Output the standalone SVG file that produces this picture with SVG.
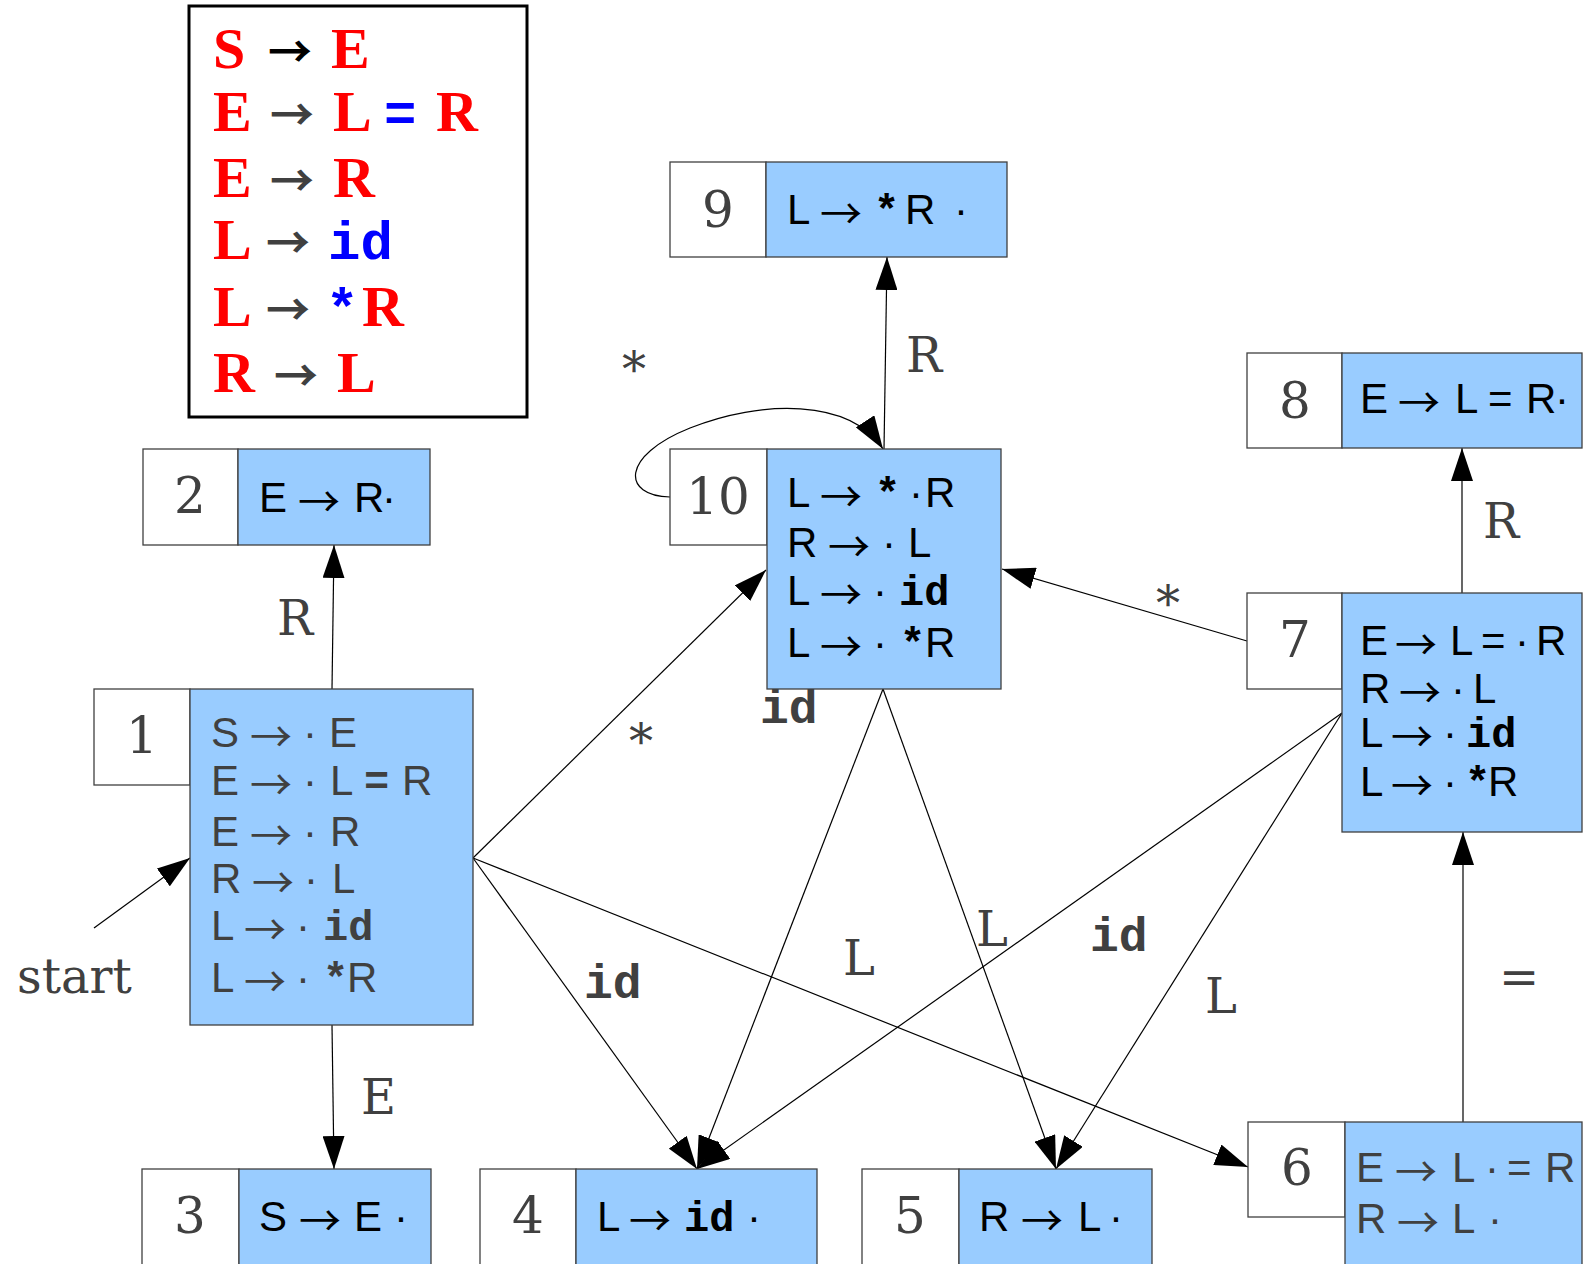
<svg xmlns="http://www.w3.org/2000/svg" width="1590" height="1264" viewBox="0 0 1590 1264">
<style>
.lbl{fill:#fff;stroke:#404040;stroke-width:1.3}
.body{fill:#99ccff;stroke:#404040;stroke-width:1.3}
.num{font-family:"DejaVu Serif",serif;font-size:50px;fill:#404040;text-anchor:middle}
.it{font-family:"Liberation Sans",Arial,sans-serif;font-size:42px;fill:#000}
.gray{fill:#404040}
.m{font-family:"Liberation Mono","Courier New",monospace;font-weight:bold}
.ar{font-family:"Noto Sans CJK SC","DejaVu Sans",sans-serif;font-size:42px}
.el{font-family:"DejaVu Serif",serif;font-size:48px;fill:#404040}
.eid{font-family:"Liberation Mono","Courier New",monospace;font-weight:bold;font-size:48px;fill:#404040}
.g{font-family:"Liberation Serif","Times New Roman",serif;font-weight:bold;font-size:58px;fill:#ff0000}
.gb{font-family:"Liberation Mono","Courier New",monospace;font-weight:bold;font-size:54px;fill:#0000ff}
.ga{font-family:"Noto Sans CJK SC","DejaVu Sans",sans-serif;font-weight:bold;font-size:44px;fill:#404040}
.edge{fill:none;stroke:#000;stroke-width:1.2}
</style>
<defs>
<marker id="ah" viewBox="0 0 33 22" markerWidth="33" markerHeight="22" refX="33" refY="11" orient="auto" markerUnits="userSpaceOnUse">
<path d="M0,0 L33,11 L0,22 z" fill="#000"/>
</marker>
</defs>

<g id="grammar">
<rect x="189" y="6" width="338" height="411" fill="#fff" stroke="#000" stroke-width="3"/>
<text class="g" x="213" y="68">S</text><text class="ga" x="268" y="68" style="fill:#000">→</text><text class="g" x="331" y="68">E</text>
<text class="g" x="213" y="131">E</text><text class="ga" x="270" y="131">→</text><text class="g" x="333" y="131">L</text><text class="gb" x="384" y="131">=</text><text class="g" x="436" y="131">R</text>
<text class="g" x="213" y="197">E</text><text class="ga" x="270" y="197">→</text><text class="g" x="333" y="197">R</text>
<text class="g" x="213" y="259">L</text><text class="ga" x="266" y="259">→</text><text class="gb" x="328" y="259">id</text>
<text class="g" x="213" y="326">L</text><text class="ga" x="266" y="326">→</text><text class="gb" x="326" y="326">*</text><text class="g" x="362" y="326">R</text>
<text class="g" x="213" y="392">R</text><text class="ga" x="274" y="392">→</text><text class="g" x="337" y="392">L</text>
</g>

<g id="connectors">
<line class="edge" x1="94" y1="928" x2="190" y2="858" marker-end="url(#ah)"/>
<line class="edge" x1="332" y1="689" x2="334" y2="545" marker-end="url(#ah)"/>
<line class="edge" x1="332" y1="1025" x2="334" y2="1169" marker-end="url(#ah)"/>
<line class="edge" x1="473" y1="858" x2="766" y2="570" marker-end="url(#ah)"/>
<line class="edge" x1="473" y1="858" x2="697" y2="1169" marker-end="url(#ah)"/>
<line class="edge" x1="473" y1="858" x2="1248" y2="1167" marker-end="url(#ah)"/>
<line class="edge" x1="883" y1="689" x2="697" y2="1169" marker-end="url(#ah)"/>
<line class="edge" x1="883" y1="689" x2="1056" y2="1169" marker-end="url(#ah)"/>
<line class="edge" x1="884" y1="449" x2="887" y2="257" marker-end="url(#ah)"/>
<path class="edge" d="M670,497 C622,496 620,456 690,428 C760,400 850,398 883,449" marker-end="url(#ah)"/>
<line class="edge" x1="1247" y1="641" x2="1002" y2="569" marker-end="url(#ah)"/>
<line class="edge" x1="1462" y1="593" x2="1462" y2="448" marker-end="url(#ah)"/>
<line class="edge" x1="1342" y1="713" x2="697" y2="1169" marker-end="url(#ah)"/>
<line class="edge" x1="1342" y1="713" x2="1056" y2="1169" marker-end="url(#ah)"/>
<line class="edge" x1="1463" y1="1122" x2="1463" y2="832" marker-end="url(#ah)"/>
<text class="el" x="17" y="993">start</text>
<text class="el" x="277" y="635">R</text>
<text class="el" x="361" y="1114">E</text>
<text class="el" x="629" y="758">*</text>
<text class="eid" x="584" y="998">id</text>
<text class="eid" x="760" y="723">id</text>
<text class="el" x="843" y="975">L</text>
<text class="el" x="976" y="946">L</text>
<text class="eid" x="1090" y="951">id</text>
<text class="el" x="1205" y="1013">L</text>
<text class="el" x="1156" y="620">*</text>
<text class="el" x="906" y="372">R</text>
<text class="el" x="622" y="386">*</text>
<text class="el" x="1483" y="538">R</text>
<text class="el" x="1499" y="994">=</text>
</g>

<g id="node1">
<rect class="lbl" x="94" y="689" width="96" height="96"/>
<rect class="body" x="190" y="689" width="283" height="336"/>
<text class="num" x="142" y="753">1</text>
<text class="it gray"><tspan x="211" y="747">S</tspan><tspan class="ar" x="250" y="752">→</tspan><tspan x="303" y="747">·</tspan><tspan x="329" y="747">E</tspan></text>
<text class="it gray"><tspan x="211" y="795">E</tspan><tspan class="ar" x="250" y="800">→</tspan><tspan x="303" y="795">·</tspan><tspan x="330" y="795">L</tspan><tspan class="m" x="364" y="795">=</tspan><tspan x="402" y="795">R</tspan></text>
<text class="it gray"><tspan x="211" y="846">E</tspan><tspan class="ar" x="250" y="851">→</tspan><tspan x="303" y="846">·</tspan><tspan x="330" y="846">R</tspan></text>
<text class="it gray"><tspan x="211" y="893">R</tspan><tspan class="ar" x="252" y="898">→</tspan><tspan x="304" y="893">·</tspan><tspan x="332" y="893">L</tspan></text>
<text class="it gray"><tspan x="211" y="940">L</tspan><tspan class="ar" x="244" y="945">→</tspan><tspan x="296" y="940">·</tspan><tspan class="m" x="323" y="940">id</tspan></text>
<text class="it gray"><tspan x="211" y="992">L</tspan><tspan class="ar" x="244" y="997">→</tspan><tspan x="296" y="992">·</tspan><tspan class="m" x="323" y="992">*</tspan><tspan x="347" y="992">R</tspan></text>
</g>

<g id="node2">
<rect class="lbl" x="143" y="449" width="95" height="96"/>
<rect class="body" x="238" y="449" width="192" height="96"/>
<text class="num" x="190" y="513">2</text>
<text class="it"><tspan x="259" y="512">E</tspan><tspan class="ar" x="298" y="517">→</tspan><tspan x="354" y="512">R</tspan><tspan x="382" y="512">·</tspan></text>
</g>

<g id="node3">
<rect class="lbl" x="142" y="1169" width="97" height="100"/>
<rect class="body" x="239" y="1169" width="192" height="100"/>
<text class="num" x="190" y="1233">3</text>
<text class="it"><tspan x="259" y="1231">S</tspan><tspan class="ar" x="299" y="1236">→</tspan><tspan x="354" y="1231">E</tspan><tspan x="394" y="1231">·</tspan></text>
</g>

<g id="node4">
<rect class="lbl" x="480" y="1169" width="96" height="100"/>
<rect class="body" x="576" y="1169" width="241" height="100"/>
<text class="num" x="528" y="1233">4</text>
<text class="it"><tspan x="597" y="1231">L</tspan><tspan class="ar" x="629" y="1236">→</tspan><tspan class="m" x="684" y="1231">id</tspan><tspan x="747" y="1231">·</tspan></text>
</g>

<g id="node5">
<rect class="lbl" x="862" y="1169" width="97" height="100"/>
<rect class="body" x="959" y="1169" width="193" height="100"/>
<text class="num" x="910" y="1233">5</text>
<text class="it"><tspan x="979" y="1231">R</tspan><tspan class="ar" x="1021" y="1236">→</tspan><tspan x="1078" y="1231">L</tspan><tspan x="1109" y="1231">·</tspan></text>
</g>

<g id="node6">
<rect class="lbl" x="1248" y="1122" width="97" height="95"/>
<rect class="body" x="1345" y="1122" width="237" height="150"/>
<text class="num" x="1297" y="1185">6</text>
<text class="it gray"><tspan x="1356" y="1182">E</tspan><tspan class="ar" x="1395" y="1187">→</tspan><tspan x="1452" y="1182">L</tspan><tspan x="1485" y="1182">·</tspan><tspan x="1507" y="1182">=</tspan><tspan x="1545" y="1182">R</tspan></text>
<text class="it gray"><tspan x="1356" y="1233">R</tspan><tspan class="ar" x="1397" y="1238">→</tspan><tspan x="1452" y="1233">L</tspan><tspan x="1488" y="1233">·</tspan></text>
</g>

<g id="node7">
<rect class="lbl" x="1247" y="593" width="95" height="96"/>
<rect class="body" x="1342" y="593" width="240" height="239"/>
<text class="num" x="1295" y="657">7</text>
<text class="it"><tspan x="1360" y="655">E</tspan><tspan class="ar" x="1395" y="660">→</tspan><tspan x="1450" y="655">L</tspan><tspan x="1481" y="655">=</tspan><tspan x="1515" y="655">·</tspan><tspan x="1536" y="655">R</tspan></text>
<text class="it"><tspan x="1360" y="703">R</tspan><tspan class="ar" x="1399" y="708">→</tspan><tspan x="1451" y="703">·</tspan><tspan x="1473" y="703">L</tspan></text>
<text class="it"><tspan x="1360" y="747">L</tspan><tspan class="ar" x="1391" y="752">→</tspan><tspan x="1443" y="747">·</tspan><tspan class="m" x="1466" y="747">id</tspan></text>
<text class="it"><tspan x="1360" y="796">L</tspan><tspan class="ar" x="1391" y="801">→</tspan><tspan x="1443" y="796">·</tspan><tspan class="m" x="1465" y="796">*</tspan><tspan x="1488" y="796">R</tspan></text>
</g>

<g id="node8">
<rect class="lbl" x="1247" y="353" width="95" height="95"/>
<rect class="body" x="1342" y="353" width="240" height="95"/>
<text class="num" x="1295" y="418">8</text>
<text class="it"><tspan x="1360" y="413">E</tspan><tspan class="ar" x="1398" y="418">→</tspan><tspan x="1455" y="413">L</tspan><tspan x="1488" y="413">=</tspan><tspan x="1526" y="413">R</tspan><tspan x="1555" y="413">·</tspan></text>
</g>

<g id="node9">
<rect class="lbl" x="670" y="162" width="96" height="95"/>
<rect class="body" x="766" y="162" width="241" height="95"/>
<text class="num" x="718" y="227">9</text>
<text class="it"><tspan x="787" y="224">L</tspan><tspan class="ar" x="820" y="229">→</tspan><tspan class="m" x="874" y="224">*</tspan><tspan x="905" y="224">R</tspan><tspan x="954" y="224">·</tspan></text>
</g>

<g id="node10">
<rect class="lbl" x="670" y="449" width="97" height="96"/>
<rect class="body" x="767" y="449" width="234" height="240"/>
<text class="num" x="718" y="514">10</text>
<text class="it"><tspan x="787" y="507">L</tspan><tspan class="ar" x="820" y="512">→</tspan><tspan class="m" x="875" y="507">*</tspan><tspan x="909" y="507">·</tspan><tspan x="925" y="507">R</tspan></text>
<text class="it"><tspan x="787" y="557">R</tspan><tspan class="ar" x="828" y="562">→</tspan><tspan x="882" y="557">·</tspan><tspan x="908" y="557">L</tspan></text>
<text class="it"><tspan x="787" y="605">L</tspan><tspan class="ar" x="820" y="610">→</tspan><tspan x="873" y="605">·</tspan><tspan class="m" x="899" y="605">id</tspan></text>
<text class="it"><tspan x="787" y="657">L</tspan><tspan class="ar" x="820" y="662">→</tspan><tspan x="873" y="657">·</tspan><tspan class="m" x="900" y="657">*</tspan><tspan x="925" y="657">R</tspan></text>
</g>
</svg>
